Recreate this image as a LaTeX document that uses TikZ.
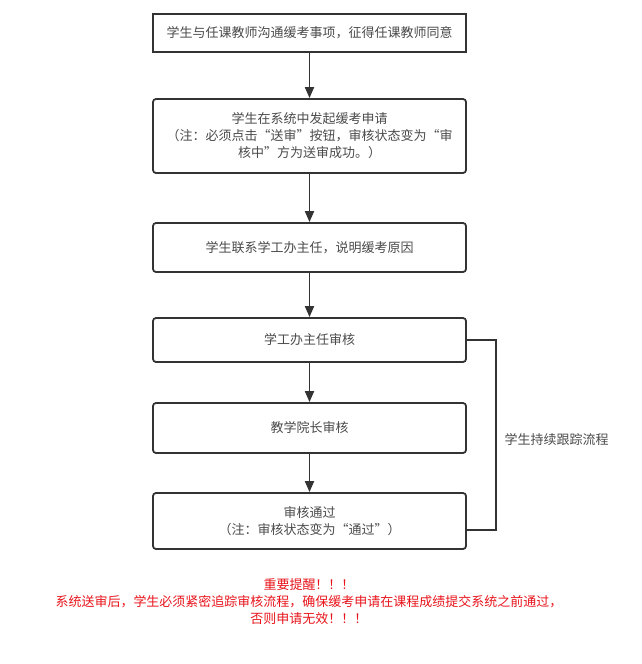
\documentclass[tikz,border=0pt]{standalone}
\usepackage{fontspec}
\setmainfont{Noto Sans CJK SC}
\usetikzlibrary{arrows.meta}
\definecolor{linegray}{HTML}{333333}
\definecolor{textgray}{HTML}{4A4A4A}
\definecolor{alertred}{HTML}{E8141B}
\begin{document}
\begin{tikzpicture}[x=1pt,y=-1pt,
  stepbox/.style={draw=linegray, line width=1.8pt, rounded corners=3pt, minimum width=313pt,
    inner sep=0pt, align=center, text=textgray, font=\fontsize{13}{17}\selectfont},
  flow/.style={draw=linegray, line width=1.8pt, -{Triangle[length=11pt,width=9pt]}}]
\useasboundingbox (0,0) rectangle (642,664);
\node[stepbox, sharp corners, minimum height=38pt] (contact) at (309.5,33) {学生与任课教师沟通缓考事项，征得任课教师同意};
\node[stepbox, minimum height=74pt] (apply) at (309.5,136) {学生在系统中发起缓考申请\\（注：必须点击“送审”按钮，审核状态变为“审\\核中”方为送审成功。）};
\node[stepbox, minimum height=49pt] (office) at (309.5,247.5) {学生联系学工办主任，说明缓考原因};
\node[stepbox, minimum height=44pt] (review) at (309.5,340) {学工办主任审核};
\node[stepbox, minimum height=50pt] (dean) at (309.5,428) {教学院长审核};
\node[stepbox, minimum height=56pt] (passed) at (309.5,521) {审核通过\\（注：审核状态变为“通过”）};
\draw[flow] (contact) -- (apply);
\draw[flow] (apply) -- (office);
\draw[flow] (office) -- (review);
\draw[flow] (review) -- (dean);
\draw[flow] (dean) -- (passed);
% tracking bracket
\coordinate (trackTop) at (496,340);
\coordinate (trackEnd) at (496,530);
\draw[linegray, line width=1.8pt] (review.east) -- (trackTop) -- (trackEnd) -- (passed.east |- trackEnd);
\node[anchor=west, text=textgray, font=\fontsize{13}{17}\selectfont] (track) at (501,440) {学生持续跟踪流程};
\node[align=center, text=alertred, font=\fontsize{13}{17}\selectfont] (notice) at (309,602) {重要提醒！！！\\系统送审后，学生必须紧密追踪审核流程，确保缓考申请在课程成绩提交系统之前通过，\\否则申请无效！！！};
\end{tikzpicture}
\end{document}
